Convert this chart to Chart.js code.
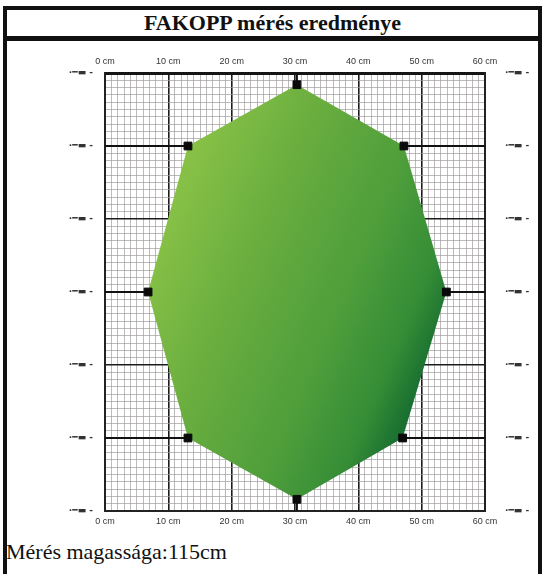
<!DOCTYPE html>
<html>
<head>
<meta charset="utf-8">
<script src="https://cdn.jsdelivr.net/npm/chart.js@4.4.1/dist/chart.umd.min.js"></script>
<style>
  html, body { margin:0; padding:0; background:#fff; }
  body { width:547px; height:574px; position:relative; overflow:hidden; }
  #frame { position:absolute; left:3px; top:6px; width:539px; height:600px; box-sizing:border-box;
           border:4px solid #111; }
  #title { position:absolute; left:7px; top:10px; width:531px; height:31px; box-sizing:border-box;
           border-bottom:5px solid #111; text-align:center;
           font-family:"Liberation Serif","Times New Roman",serif; font-weight:bold; font-size:22px; line-height:25px; color:#111; }
  #foot { position:absolute; left:6px; top:539px; font-family:"Liberation Serif","Times New Roman",serif;
          font-size:22px; color:#111; white-space:nowrap; }
  canvas { position:absolute; left:0; top:0; }
</style>
</head>
<body>
<div id="frame"></div>
<div id="title">FAKOPP mérés eredménye</div>
<div id="foot">Mérés magassága:115cm</div>
<canvas id="c" width="547" height="574"></canvas>
<script>
// ---- data ----
const xTickLabels = ['0 cm', '10 cm', '20 cm', '30 cm', '40 cm', '50 cm', '60 cm'];
const yTickLabels = ['·━▬ -', '·━▬ -', '·━▬ -', '·━▬ -', '·━▬ -', '·━▬ -', '·━▬ -'];
// sensor positions (cm)
const sensorX = [30.3, 47.2, 53.9, 47.0, 30.3, 13.1, 6.8, 13.1];
const sensorY = [58.4, 50.0, 30.0, 10.0, 1.6, 10.0, 30.0, 50.0];
// where each sensor's lead line meets the chart border
const leadX = [30.3, 60, 60, 60, 30.3, 0, 0, 0];
const leadY = [60, 50, 30, 10, 0, 10, 30, 50];

const polygon = sensorX.map((x, i) => ({x, y: sensorY[i]}));
polygon.push({x: sensorX[0], y: sensorY[0]});
const sensors = sensorX.map((x, i) => ({x, y: sensorY[i]}));
const leads = [];
sensorX.forEach((x, i) => {
  leads.push({x, y: sensorY[i]});
  leads.push({x: leadX[i], y: leadY[i]});
  leads.push({x: null, y: null});
});

function greenFill(c) {
  const ch = c.chart;
  if (!ch.chartArea) return '#5aa53c';
  const sx = ch.scales.x, sy = ch.scales.y;
  const g = ch.ctx.createLinearGradient(sx.getPixelForValue(12), sy.getPixelForValue(44),
                                        sx.getPixelForValue(55), sy.getPixelForValue(28));
  g.addColorStop(0, '#86c046');
  g.addColorStop(0.3, '#6aae3f');
  g.addColorStop(0.65, '#4e9e3b');
  g.addColorStop(0.88, '#358d36');
  g.addColorStop(1, '#1a7030');
  return g;
}

const gridColor = c => (c.tick && c.tick.value % 10 === 0) ? '#1c1c1c' : '#a09c9e';
const gridWidth = c => (c.tick && c.tick.value % 10 === 0) ? 1.6 : 0.7;
const xCb = v => (v % 10 === 0) ? xTickLabels[v / 10] : '';
const yCb = v => (v % 10 === 0) ? yTickLabels[v / 10] : '';
const xFont = {family: '"Liberation Sans Narrow","Liberation Sans",sans-serif', size: 9};
const yFont = {family: 'DejaVu Sans', size: 9, weight: 'bold'};

new Chart(document.getElementById('c'), {
  type: 'scatter',
  data: {
    datasets: [
      { data: polygon, showLine: true, fill: 'shape', backgroundColor: greenFill,
        borderColor: 'rgba(0,0,0,0)', borderWidth: 0, pointRadius: 0, order: 3 },
      { data: leads, showLine: true, spanGaps: false, borderColor: '#111', borderWidth: 2,
        pointRadius: 0, fill: false, order: 2 },
      { data: sensors, showLine: false, pointStyle: 'rect', pointRadius: 5.5,
        backgroundColor: '#0a0a0a', borderColor: '#0a0a0a', order: 1 }
    ]
  },
  options: {
    responsive: false, animation: false, devicePixelRatio: 1,
    layout: { padding: 0 },
    plugins: { legend: {display: false}, tooltip: {enabled: false}, title: {display: false} },
    scales: {
      x: { type: 'linear', position: 'bottom', min: 0, max: 60,
        ticks: { stepSize: 1, autoSkip: false, maxRotation: 0, callback: xCb, font: xFont, color: '#333', padding: 5 },
        grid: { color: gridColor, lineWidth: gridWidth, drawTicks: false },
        border: { display: true, color: '#222', width: 2 },
        afterFit: s => { s.height = 63; } },
      xTop: { type: 'linear', position: 'top', min: 0, max: 60,
        ticks: { stepSize: 1, autoSkip: false, maxRotation: 0, callback: xCb, font: xFont, color: '#333', padding: 6 },
        grid: { display: false, drawTicks: false },
        border: { display: true, color: '#151515', width: 3 },
        afterFit: s => { s.height = 73; } },
      y: { type: 'linear', position: 'left', min: 0, max: 60,
        ticks: { stepSize: 1, autoSkip: false, callback: yCb, font: yFont, color: '#333', padding: 12 },
        grid: { color: gridColor, lineWidth: gridWidth, drawTicks: false },
        border: { display: true, color: '#222', width: 2 },
        afterFit: s => { s.width = 105; } },
      yRight: { type: 'linear', position: 'right', min: 0, max: 60,
        ticks: { stepSize: 1, autoSkip: false, callback: yCb, font: yFont, color: '#333', padding: 20 },
        grid: { display: false, drawTicks: false },
        border: { display: true, color: '#222', width: 2 },
        afterFit: s => { s.width = 62; } }
    }
  }
});
</script>
</body>
</html>
